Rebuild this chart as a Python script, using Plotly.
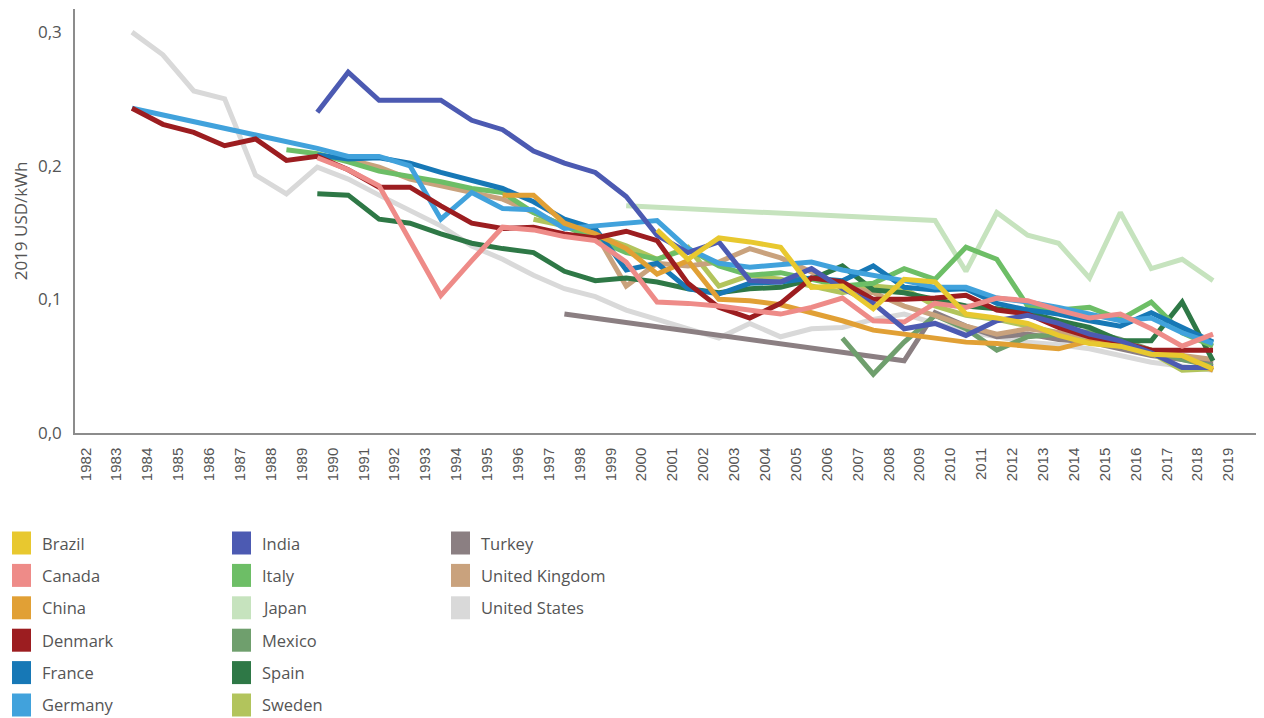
import plotly.graph_objects as go

# ---------------- data (2019 USD/kWh) ----------------
tick_years = list(range(1982, 2020))
y_ticks = [0.0, 0.1, 0.2, 0.3]

brazil_years = [2001, 2002, 2003, 2004, 2005, 2006, 2007, 2008, 2009, 2010, 2011, 2012, 2013, 2014, 2015, 2016, 2017, 2018, 2019]
brazil_lcoe = [0.152, 0.130, 0.146, 0.143, 0.139, 0.109, 0.110, 0.093, 0.115, 0.113, 0.089, 0.086, 0.082, 0.073, 0.067, 0.065, 0.059, 0.058, 0.048]

canada_years = [1990, 1991, 1992, 1993, 1994, 1995, 1996, 1997, 1998, 1999, 2000, 2001, 2002, 2003, 2004, 2005, 2006, 2007, 2008, 2009, 2010, 2011, 2012, 2013, 2014, 2015, 2016, 2017, 2018, 2019]
canada_lcoe = [0.206, 0.197, 0.185, 0.144, 0.103, 0.129, 0.154, 0.152, 0.147, 0.144, 0.128, 0.098, 0.097, 0.095, 0.092, 0.089, 0.094, 0.101, 0.084, 0.083, 0.097, 0.094, 0.101, 0.099, 0.092, 0.086, 0.089, 0.078, 0.065, 0.074]

china_years = [1996, 1997, 1998, 1999, 2000, 2001, 2002, 2003, 2004, 2005, 2006, 2007, 2008, 2009, 2010, 2011, 2012, 2013, 2014, 2015, 2016, 2017, 2018, 2019]
china_lcoe = [0.178, 0.178, 0.157, 0.149, 0.138, 0.119, 0.129, 0.100, 0.099, 0.096, 0.090, 0.084, 0.077, 0.074, 0.071, 0.068, 0.067, 0.065, 0.063, 0.069, 0.065, 0.062, 0.058, 0.047]

denmark_years = [1984, 1985, 1986, 1987, 1988, 1989, 1990, 1991, 1992, 1993, 1994, 1995, 1996, 1997, 1998, 1999, 2000, 2001, 2002, 2003, 2004, 2005, 2006, 2007, 2008, 2009, 2010, 2011, 2012, 2013, 2014, 2015, 2016, 2017, 2018, 2019]
denmark_lcoe = [0.243, 0.231, 0.225, 0.215, 0.220, 0.204, 0.207, 0.197, 0.184, 0.184, 0.170, 0.157, 0.153, 0.154, 0.149, 0.146, 0.151, 0.144, 0.112, 0.094, 0.086, 0.097, 0.116, 0.113, 0.100, 0.100, 0.101, 0.103, 0.092, 0.089, 0.079, 0.072, 0.068, 0.062, 0.062, 0.062]

france_years = [1990, 1991, 1992, 1993, 1994, 1995, 1996, 1997, 1998, 1999, 2000, 2001, 2002, 2003, 2004, 2005, 2006, 2007, 2008, 2009, 2010, 2011, 2012, 2013, 2014, 2015, 2016, 2017, 2018, 2019]
france_lcoe = [0.208, 0.205, 0.206, 0.202, 0.195, 0.189, 0.183, 0.173, 0.160, 0.153, 0.122, 0.127, 0.108, 0.104, 0.112, 0.113, 0.116, 0.114, 0.125, 0.109, 0.107, 0.108, 0.097, 0.092, 0.089, 0.084, 0.080, 0.090, 0.079, 0.068]

germany_years = [1984, 1990, 1991, 1992, 1993, 1994, 1995, 1996, 1997, 1998, 1999, 2000, 2001, 2002, 2003, 2004, 2005, 2006, 2007, 2008, 2009, 2010, 2011, 2012, 2013, 2014, 2015, 2016, 2017, 2018, 2019]
germany_lcoe = [0.243, 0.213, 0.207, 0.207, 0.200, 0.160, 0.180, 0.168, 0.167, 0.153, 0.155, 0.157, 0.159, 0.138, 0.127, 0.124, 0.126, 0.128, 0.122, 0.118, 0.114, 0.109, 0.109, 0.101, 0.098, 0.094, 0.089, 0.084, 0.086, 0.075, 0.067]

india_years = [1990, 1991, 1992, 1993, 1994, 1995, 1996, 1997, 1998, 1999, 2000, 2001, 2002, 2003, 2004, 2005, 2006, 2007, 2008, 2009, 2010, 2011, 2012, 2013, 2014, 2015, 2016, 2017, 2018, 2019]
india_lcoe = [0.240, 0.270, 0.249, 0.249, 0.249, 0.234, 0.227, 0.211, 0.202, 0.195, 0.177, 0.148, 0.135, 0.143, 0.114, 0.113, 0.123, 0.108, 0.097, 0.078, 0.082, 0.073, 0.084, 0.088, 0.082, 0.074, 0.069, 0.060, 0.049, 0.049]

italy_years = [1989, 1990, 1991, 1992, 1993, 1994, 1995, 1996, 1997, 1998, 1999, 2000, 2001, 2002, 2003, 2004, 2005, 2006, 2007, 2008, 2009, 2010, 2011, 2012, 2013, 2014, 2015, 2016, 2017, 2018, 2019]
italy_lcoe = [0.212, 0.209, 0.203, 0.196, 0.192, 0.188, 0.183, 0.180, 0.165, 0.155, 0.145, 0.135, 0.130, 0.138, 0.125, 0.118, 0.120, 0.115, 0.110, 0.112, 0.123, 0.115, 0.139, 0.130, 0.095, 0.092, 0.094, 0.085, 0.098, 0.075, 0.065]

japan_years = [2000, 2010, 2011, 2012, 2013, 2014, 2015, 2016, 2017, 2018, 2019]
japan_lcoe = [0.170, 0.159, 0.121, 0.165, 0.148, 0.142, 0.116, 0.165, 0.123, 0.130, 0.114]

mexico_years = [2007, 2008, 2009, 2010, 2011, 2012, 2013, 2014, 2015, 2016, 2017, 2018, 2019]
mexico_lcoe = [0.071, 0.044, 0.068, 0.088, 0.078, 0.062, 0.072, 0.074, 0.076, 0.070, 0.062, 0.055, 0.050]

spain_years = [1990, 1991, 1992, 1993, 1994, 1995, 1996, 1997, 1998, 1999, 2000, 2001, 2002, 2003, 2004, 2005, 2006, 2007, 2008, 2009, 2010, 2011, 2012, 2013, 2014, 2015, 2016, 2017, 2018, 2019]
spain_lcoe = [0.179, 0.178, 0.160, 0.157, 0.149, 0.142, 0.138, 0.135, 0.121, 0.114, 0.116, 0.113, 0.108, 0.105, 0.108, 0.109, 0.115, 0.125, 0.107, 0.105, 0.100, 0.095, 0.093, 0.090, 0.084, 0.079, 0.069, 0.069, 0.098, 0.054]

sweden_years = [1997, 1998, 1999, 2000, 2001, 2002, 2003, 2004, 2005, 2006, 2007, 2008, 2009, 2010, 2011, 2012, 2013, 2014, 2015, 2016, 2017, 2018, 2019]
sweden_lcoe = [0.160, 0.155, 0.148, 0.140, 0.130, 0.139, 0.110, 0.118, 0.115, 0.110, 0.105, 0.110, 0.108, 0.095, 0.088, 0.085, 0.080, 0.075, 0.070, 0.065, 0.060, 0.047, 0.048]

turkey_years = [1998, 2009, 2010, 2011, 2012, 2013, 2014, 2015, 2016, 2017, 2018, 2019]
turkey_lcoe = [0.089, 0.054, 0.090, 0.080, 0.072, 0.074, 0.070, 0.068, 0.063, 0.058, 0.055, 0.052]

uk_years = [1991, 1992, 1993, 1994, 1995, 1996, 1997, 1998, 1999, 2000, 2001, 2002, 2003, 2004, 2005, 2006, 2007, 2008, 2009, 2010, 2011, 2012, 2013, 2014, 2015, 2016, 2017, 2018, 2019]
uk_lcoe = [0.205, 0.199, 0.190, 0.185, 0.180, 0.175, 0.165, 0.155, 0.150, 0.110, 0.127, 0.125, 0.128, 0.138, 0.131, 0.120, 0.110, 0.105, 0.095, 0.088, 0.080, 0.074, 0.078, 0.075, 0.072, 0.068, 0.062, 0.058, 0.055]

us_years = [1984, 1985, 1986, 1987, 1988, 1989, 1990, 1991, 1992, 1993, 1994, 1995, 1996, 1997, 1998, 1999, 2000, 2001, 2002, 2003, 2004, 2005, 2006, 2007, 2008, 2009, 2010, 2011, 2012, 2013, 2014, 2015, 2016, 2017, 2018, 2019]
us_lcoe = [0.300, 0.283, 0.256, 0.250, 0.193, 0.179, 0.199, 0.190, 0.178, 0.166, 0.155, 0.140, 0.130, 0.118, 0.108, 0.102, 0.092, 0.085, 0.078, 0.071, 0.082, 0.072, 0.078, 0.079, 0.085, 0.089, 0.082, 0.076, 0.072, 0.068, 0.066, 0.063, 0.058, 0.053, 0.050, 0.047]

series = {
    "Brazil": (brazil_years, brazil_lcoe, "#e8c82f"),
    "Canada": (canada_years, canada_lcoe, "#ee8b88"),
    "China": (china_years, china_lcoe, "#e1a035"),
    "Denmark": (denmark_years, denmark_lcoe, "#9c1d20"),
    "France": (france_years, france_lcoe, "#1778b6"),
    "Germany": (germany_years, germany_lcoe, "#41a2dc"),
    "India": (india_years, india_lcoe, "#4c5ab2"),
    "Italy": (italy_years, italy_lcoe, "#6dbe66"),
    "Japan": (japan_years, japan_lcoe, "#c6e3be"),
    "Mexico": (mexico_years, mexico_lcoe, "#6f9f6d"),
    "Spain": (spain_years, spain_lcoe, "#2e7846"),
    "Sweden": (sweden_years, sweden_lcoe, "#b2c45c"),
    "Turkey": (turkey_years, turkey_lcoe, "#8b7f82"),
    "United Kingdom": (uk_years, uk_lcoe, "#c9a27d"),
    "United States": (us_years, us_lcoe, "#d9d9d9"),
}

legend_columns = [
    ["Brazil", "Canada", "China", "Denmark", "France", "Germany"],
    ["India", "Italy", "Japan", "Mexico", "Spain", "Sweden"],
    ["Turkey", "United Kingdom", "United States"],
]

draw_order = ["United States", "Japan", "Turkey", "Mexico", "Sweden", "United Kingdom",
              "Spain", "Italy", "France", "Germany", "China", "Denmark", "Canada",
              "India", "Brazil"]

# ---------------- figure ----------------
# page has an 8px body margin, so the figure is 1256x710 placed at (8, 8)
OFF = 8
W, H = 1256, 710
ML, MR, MT, MB = 67, 0, 1, 285
PW, PH = W - ML - MR, H - MT - MB
PLOT_LEFT = OFF + ML          # page px of the plot's left edge
PLOT_BOTTOM = OFF + H - MB    # page px of the plot's bottom edge

fig = go.Figure()
for name in draw_order:
    xs, ys, col = series[name]
    fig.add_trace(go.Scatter(
        x=xs, y=ys, mode="lines", name=name, showlegend=False,
        line=dict(color=col, width=5),
        hovertemplate=name + " %{x}: %{y:.3f}<extra></extra>",
    ))

# manual three-column legend with square swatches (page pixel -> paper)
def px_x(px):
    return (px - PLOT_LEFT) / PW

def px_y(py):
    return (PLOT_BOTTOM - py) / PH

shapes = []
annotations = []
col_x = [12, 232, 451]
row_y0, row_step = 543, 32.4
for ci, col_names in enumerate(legend_columns):
    for ri, name in enumerate(col_names):
        cy = row_y0 + ri * row_step
        sx = col_x[ci]
        shapes.append(dict(type="rect", xref="paper", yref="paper",
                           x0=px_x(sx), x1=px_x(sx + 19),
                           y0=px_y(cy + 11.5), y1=px_y(cy - 11.5),
                           fillcolor=series[name][2], line=dict(width=0)))
        annotations.append(dict(text=name, xref="paper", yref="paper",
                                x=px_x(sx + 28), y=px_y(cy), xanchor="left",
                                yanchor="middle", showarrow=False,
                                font=dict(family="Open Sans", size=16.5, color="#555555")))

fig.update_layout(
    width=W, height=H,
    margin=dict(l=ML, r=MR, t=MT, b=MB),
    paper_bgcolor="white", plot_bgcolor="white",
    separators=", ",
    showlegend=False,
    shapes=shapes,
    annotations=annotations,
    font=dict(family="Open Sans", color="#555555"),
)
fig.update_xaxes(
    range=[1982.155, 2020.65],
    tickvals=[y + 0.5 for y in tick_years],
    ticktext=[str(y) for y in tick_years],
    tickangle=-90,
    tickfont=dict(family="Liberation Sans", size=15, color="#555555"),
    showgrid=False, zeroline=False,
    showline=True, linecolor="#8c8c8c", linewidth=1.5,
    ticks="", ticklabelstandoff=7,
)
fig.update_yaxes(
    range=[0, 0.3173],
    tickvals=y_ticks,
    tickformat=".1f",
    tickfont=dict(family="Open Sans", size=17, color="#555555"),
    title=dict(text="2019 USD/kWh", font=dict(family="Open Sans", size=17, color="#555555"), standoff=6),
    showgrid=False, zeroline=False,
    showline=True, linecolor="#8c8c8c", linewidth=1.5,
    ticks="", ticklabelstandoff=8,
)

fig.write_html("out.html")
